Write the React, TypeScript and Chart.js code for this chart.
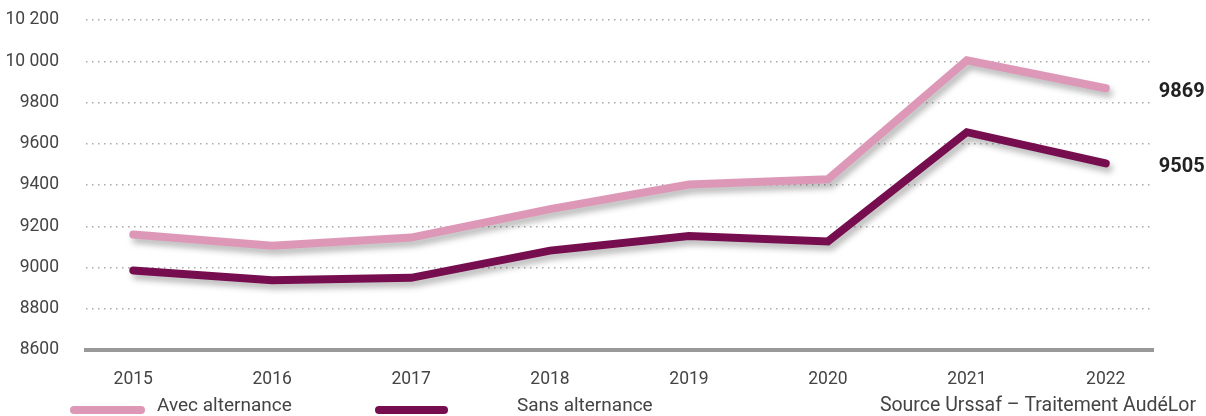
import React, { useEffect, useRef } from "react";
import { Chart, registerables } from "chart.js";

Chart.register(...registerables);

const years = [2015, 2016, 2017, 2018, 2019, 2020, 2021, 2022];
const avecAlternance = [9160, 9105, 9145, 9283, 9402, 9428, 10005, 9869];
const sansAlternance = [8986, 8938, 8950, 9082, 9153, 9126, 9656, 9505];
const yTicks = [8600, 8800, 9000, 9200, 9400, 9600, 9800, 10000, 10200];
const seriesNames = ["Avec alternance", "Sans alternance"];
const sourceText = "Source Urssaf – Traitement AudéLor";

const PINK = "#DD97B7";
const PLUM = "#760D4E";
const FONT = "Roboto, 'Open Sans', sans-serif";

function fmt(v: number): string {
  if (v >= 10000) {
    return `${Math.floor(v / 1000)} ${String(v % 1000).padStart(3, "0")}`;
  }
  return String(v);
}

const shadowPlugin = {
  id: "lineShadow",
  beforeDatasetDraw(chart: any) {
    const ctx = chart.ctx;
    ctx.save();
    ctx.shadowColor = "rgba(0,0,0,0.28)";
    ctx.shadowBlur = 6;
    ctx.shadowOffsetX = 3;
    ctx.shadowOffsetY = 5;
  },
  afterDatasetDraw(chart: any) {
    chart.ctx.restore();
  },
};

const labelsPlugin = {
  id: "extras",
  afterDraw(chart: any) {
    const ctx = chart.ctx;
    ctx.save();
    // end value labels
    ctx.font = `bold 20px ${FONT}`;
    ctx.fillStyle = "#222";
    ctx.textAlign = "left";
    ctx.textBaseline = "middle";
    chart.data.datasets.forEach((ds: any, i: number) => {
      const meta = chart.getDatasetMeta(i);
      const last = meta.data[meta.data.length - 1];
      const val = ds.data[ds.data.length - 1].y;
      ctx.fillText(String(val), last.x + 53, last.y + 4);
    });
    // legend
    const legendY = 410;
    const items = [
      { x1: 70, x2: 145, tx: 157, color: PINK, text: seriesNames[0] },
      { x1: 375, x2: 448, tx: 517, color: PLUM, text: seriesNames[1] },
    ];
    items.forEach((it) => {
      ctx.beginPath();
      ctx.lineCap = "round";
      ctx.lineWidth = 8;
      ctx.strokeStyle = it.color;
      ctx.moveTo(it.x1 + 4, legendY);
      ctx.lineTo(it.x2 - 4, legendY);
      ctx.stroke();
      ctx.font = `19px ${FONT}`;
      ctx.fillStyle = "#444";
      ctx.textAlign = "left";
      ctx.textBaseline = "middle";
      ctx.fillText(it.text, it.tx, 406);
    });
    ctx.font = `19.5px ${FONT}`;
    ctx.textAlign = "right";
    ctx.fillText(sourceText, 1196, 406);
    ctx.restore();
  },
};

export default function App() {
  const ref = useRef<HTMLCanvasElement | null>(null);

  useEffect(() => {
    document.body.style.margin = "0";
    if (!ref.current) return;
    const chart = new Chart(ref.current, {
      type: "line",
      data: {
        datasets: [
          {
            label: seriesNames[0],
            data: years.map((y, i) => ({ x: y, y: avecAlternance[i] })),
            borderColor: PINK,
            borderWidth: 8,
            pointRadius: 0,
            tension: 0,
            borderCapStyle: "round",
            fill: false,
          },
          {
            label: seriesNames[1],
            data: years.map((y, i) => ({ x: y, y: sansAlternance[i] })),
            borderColor: PLUM,
            borderWidth: 8,
            pointRadius: 0,
            tension: 0,
            borderCapStyle: "round",
            fill: false,
          },
        ],
      },
      options: {
        animation: false,
        responsive: false,
        maintainAspectRatio: false,
        layout: { padding: { top: 20, right: 53, left: 0, bottom: 0 } },
        plugins: {
          legend: { display: false },
          tooltip: { enabled: false },
        },
        scales: {
          x: {
            type: "linear",
            min: 2014.66,
            max: 2022.34,
            afterBuildTicks: (scale: any) => {
              scale.ticks = years.map((v) => ({ value: v }));
            },
            afterFit: (scale: any) => {
              scale.height = 66;
            },
            grid: { display: false, drawTicks: false },
            border: { display: true, color: "#999", width: 4 },
            ticks: {
              padding: 19,
              color: "#444",
              font: { family: FONT, size: 17.5 },
              callback: (v: any) => String(v),
            },
          },
          y: {
            min: 8600,
            max: 10200,
            afterBuildTicks: (scale: any) => {
              scale.ticks = yTicks.map((v) => ({ value: v }));
            },
            afterFit: (scale: any) => {
              scale.width = 86;
              scale.paddingTop = 0;
              scale.paddingBottom = 0;
            },
            grid: {
              color: "#aaa",
              lineWidth: 1.5,
              drawTicks: false,
            },
            border: { display: false, dash: [1.5, 4.5] },
            ticks: {
              padding: 27,
              color: "#444",
              font: { family: FONT, size: 17.5 },
              callback: (v: any) => fmt(Number(v)),
            },
          },
        },
      },
      plugins: [shadowPlugin, labelsPlugin],
    } as any);
    return () => chart.destroy();
  }, []);

  return (
    <div style={{ width: 1206, height: 416, position: "relative" }}>
      <canvas ref={ref} width={1206} height={416} style={{ width: 1206, height: 416 }} />
    </div>
  );
}
